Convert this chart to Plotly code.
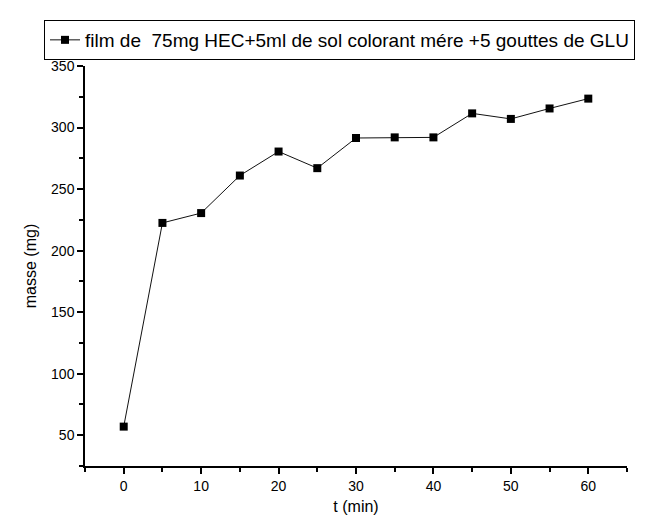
import plotly.graph_objects as go

t_min = [0, 5, 10, 15, 20, 25, 30, 35, 40, 45, 50, 55, 60]
masse_mg = [57, 222.5, 230.5, 261, 280.5, 267, 291.5, 292, 292, 311.5, 307, 315.5, 323.5]
series_name = "film de  75mg HEC+5ml de sol colorant mére +5 gouttes de GLU"

FONT = "Liberation Sans, Arial, sans-serif"

L, R, T, B = 77, 32, 58, 57
W, H = 651, 515
pw, ph = W - L - R, H - T - B

fig = go.Figure()
fig.add_trace(go.Scatter(
    x=t_min, y=masse_mg, mode="lines+markers", name=series_name,
    line=dict(color="#111111", width=1),
    marker=dict(symbol="square", size=8, color="black"),
))

fig.update_layout(
    width=W, height=H,
    margin=dict(l=L, r=R, t=T, b=B, autoexpand=False),
    paper_bgcolor="white", plot_bgcolor="white",
    font=dict(family=FONT, color="black", size=13),
    showlegend=True,
    legend=dict(
        x=(36 - L) / pw, y=(H - B - 12) / ph, xanchor="left", yanchor="top",
        bordercolor="black", borderwidth=1,
        font=dict(size=19, family=FONT),
        tracegroupgap=0,
    ),
    xaxis=dict(
        range=[-5, 65], tick0=0, dtick=10,
        showgrid=False, zeroline=False,
        showline=True, linecolor="black", linewidth=1.5,
        ticks="outside", ticklen=6, tickwidth=1.5, tickcolor="black",
        minor=dict(dtick=5, tick0=0, ticks="outside", ticklen=4, tickwidth=1.5, tickcolor="black"),
        tickfont=dict(size=14),
        title=dict(text="t (min)", font=dict(size=16), standoff=8),
    ),
    yaxis=dict(
        range=[25, 350], tick0=0, dtick=50,
        showgrid=False, zeroline=False,
        showline=True, linecolor="black", linewidth=1.5,
        ticks="outside", ticklen=6, tickwidth=1.5, tickcolor="black",
        minor=dict(dtick=25, tick0=0, ticks="outside", ticklen=4, tickwidth=1.5, tickcolor="black"),
        tickfont=dict(size=14),
        title=dict(text="masse (mg)", font=dict(size=16), standoff=10),
    ),
)

fig.write_html("out.html")
